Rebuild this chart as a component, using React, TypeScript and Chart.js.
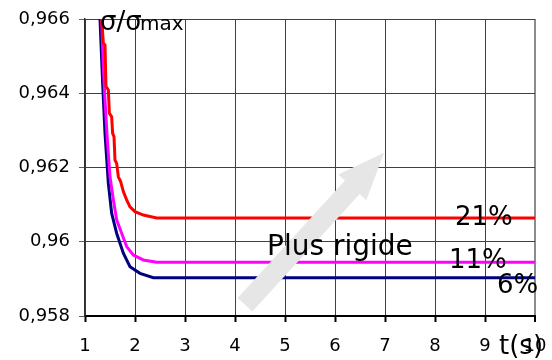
import React, { useEffect, useRef } from "react";
import { Chart, registerables } from "chart.js";

Chart.register(...registerables);

// ---- Data ----
const xTickValues = [1, 2, 3, 4, 5, 6, 7, 8, 9, 10];
const xTickLabels = ["1", "2", "3", "4", "5", "6", "7", "8", "9", "10"];
const yTickValues = [0.958, 0.96, 0.962, 0.964, 0.966];
const yTickLabels = ["0,958", "0,96", "0,962", "0,964", "0,966"];

const seriesNames = ["21%", "11%", "6%"];

const t21 = [1.333, 1.367, 1.4, 1.42, 1.467, 1.487, 1.533, 1.553, 1.58, 1.6, 1.633, 1.667, 1.713, 1.767, 1.833, 1.9, 2.0, 2.167, 2.433, 10];
const s21 = [0.966, 0.96535, 0.9653, 0.96418, 0.96409, 0.96346, 0.96337, 0.96292, 0.96283, 0.9622, 0.96211, 0.96175, 0.96162, 0.96135, 0.96113, 0.96094, 0.96081, 0.96072, 0.96064, 0.96064];

const t11 = [1.333, 1.367, 1.4, 1.447, 1.5, 1.567, 1.633, 1.733, 1.833, 1.967, 2.167, 2.433, 10];
const s11 = [0.966, 0.96472, 0.96382, 0.96274, 0.96175, 0.96113, 0.96059, 0.96023, 0.95987, 0.95964, 0.95951, 0.95945, 0.95945];

const t6 = [1.3, 1.353, 1.4, 1.467, 1.533, 1.633, 1.767, 1.9, 2.1, 2.367, 10];
const s6 = [0.966, 0.96427, 0.96292, 0.96157, 0.96077, 0.96023, 0.95969, 0.95933, 0.95915, 0.95903, 0.95903];

const yTitleMain = "σ/σ";
const yTitleSub = "max";
const xTitle = "t(s)";
const arrowLabel = "Plus rigide";
const arrowFrom = [4.2, 0.9583];
const arrowTo = [6.98, 0.9624];

const FONT = "DejaVu Sans";

const toPoints = (xs: number[], ys: number[]) => xs.map((x, i) => ({ x, y: ys[i] }));

const overlay = {
  id: "overlay",
  afterDatasetsDraw(chart: any) {
    const { ctx, scales } = chart;
    const xs = scales.x;
    const ys = scales.y;
    const x0 = xs.getPixelForValue(arrowFrom[0]);
    const y0 = ys.getPixelForValue(arrowFrom[1]);
    const x1 = xs.getPixelForValue(arrowTo[0]);
    const y1 = ys.getPixelForValue(arrowTo[1]);
    const dx = x1 - x0;
    const dy = y1 - y0;
    const L = Math.hypot(dx, dy);
    const ux = dx / L;
    const uy = dy / L;
    const px = -uy;
    const py = ux;
    const sw = 10;
    const hw = 19;
    const hl = 47;
    const bx = x1 - ux * hl;
    const by = y1 - uy * hl;
    ctx.save();
    ctx.fillStyle = "#e6e6e6";
    ctx.beginPath();
    ctx.moveTo(x0 + px * sw, y0 + py * sw);
    ctx.lineTo(bx + px * sw, by + py * sw);
    ctx.lineTo(bx + px * hw, by + py * hw);
    ctx.lineTo(x1, y1);
    ctx.lineTo(bx - px * hw, by - py * hw);
    ctx.lineTo(bx - px * sw, by - py * sw);
    ctx.lineTo(x0 - px * sw, y0 - py * sw);
    ctx.closePath();
    ctx.fill();
    ctx.restore();
  },
  afterDraw(chart: any) {
    const { ctx } = chart;
    ctx.save();
    ctx.fillStyle = "#000";
    ctx.textAlign = "left";
    ctx.textBaseline = "alphabetic";
    ctx.font = `26px "${FONT}"`;
    ctx.fillText(yTitleMain, 100, 30);
    ctx.font = `20px "${FONT}"`;
    ctx.fillText(yTitleSub, 140, 30);
    ctx.font = `28px "${FONT}"`;
    ctx.fillText(arrowLabel, 267, 255);
    ctx.font = `26px "${FONT}"`;
    ctx.fillText(seriesNames[0], 455, 225);
    ctx.fillText(seriesNames[1], 449, 268);
    ctx.fillText(seriesNames[2], 497, 293);
    ctx.font = `26px "${FONT}"`;
    ctx.fillText(xTitle, 499, 354);
    ctx.restore();
  },
};

export default function App() {
  const ref = useRef<HTMLCanvasElement | null>(null);

  useEffect(() => {
    document.body.style.margin = "0";
    const canvas = ref.current;
    if (!canvas) return;
    const chart = new Chart(canvas, {
      type: "line",
      data: {
        datasets: [
          {
            label: seriesNames[0],
            data: toPoints(t21, s21),
            borderColor: "#ff0000",
            backgroundColor: "#ff0000",
            borderWidth: 3,
            pointRadius: 0,
            tension: 0,
          },
          {
            label: seriesNames[1],
            data: toPoints(t11, s11),
            borderColor: "#ff00ff",
            backgroundColor: "#ff00ff",
            borderWidth: 3,
            pointRadius: 0,
            tension: 0,
          },
          {
            label: seriesNames[2],
            data: toPoints(t6, s6),
            borderColor: "#000080",
            backgroundColor: "#000080",
            borderWidth: 3,
            pointRadius: 0,
            tension: 0,
          },
        ],
      },
      options: {
        responsive: false,
        animation: false,
        devicePixelRatio: 1,
        layout: { padding: { top: 19, right: 17, left: 0, bottom: 0 } },
        plugins: {
          legend: { display: false },
          tooltip: { enabled: false },
          title: { display: false },
        },
        scales: {
          x: {
            type: "linear",
            min: 1,
            max: 10,
            afterBuildTicks: (s: any) => {
              s.ticks = xTickValues.map((v) => ({ value: v }));
            },
            afterFit: (s: any) => {
              s.height = 44;
              s.paddingLeft = 0;
              s.paddingRight = 0;
            },
            ticks: {
              autoSkip: false,
              maxRotation: 0,
              padding: 14,
              color: "#000",
              font: { family: FONT, size: 18 },
              callback: (v: any) => {
                const i = xTickValues.indexOf(Number(v));
                return i >= 0 ? xTickLabels[i] : "";
              },
            },
            grid: {
              color: (c: any) => (c.tick && c.tick.value === 10 ? "#8c8c8c" : "#404040"),
              lineWidth: (c: any) => (c.tick && c.tick.value === 10 ? 2 : 1),
              tickColor: "#000",
              tickWidth: 2,
              tickLength: 6,
            },
            border: { display: true, color: "#000", width: 2 },
          },
          y: {
            type: "linear",
            min: 0.958,
            max: 0.966,
            afterBuildTicks: (s: any) => {
              s.ticks = yTickValues.map((v) => ({ value: v }));
            },
            afterFit: (s: any) => {
              s.width = 85;
              s.paddingTop = 0;
              s.paddingBottom = 0;
            },
            ticks: {
              padding: 9,
              color: "#000",
              font: { family: FONT, size: 18 },
              callback: (v: any) => {
                const i = yTickValues.findIndex((t) => Math.abs(t - Number(v)) < 1e-7);
                return i >= 0 ? yTickLabels[i] : "";
              },
            },
            grid: {
              color: "#404040",
              lineWidth: 1,
              tickColor: "#606060",
              tickLength: 6,
            },
            border: { display: true, color: "#303030", width: 1.5 },
          },
        },
      },
      plugins: [overlay],
    });
    return () => chart.destroy();
  }, []);

  return (
    <div style={{ width: 552, height: 360, background: "#fff" }}>
      <canvas ref={ref} width={552} height={360} style={{ display: "block" }} />
    </div>
  );
}
